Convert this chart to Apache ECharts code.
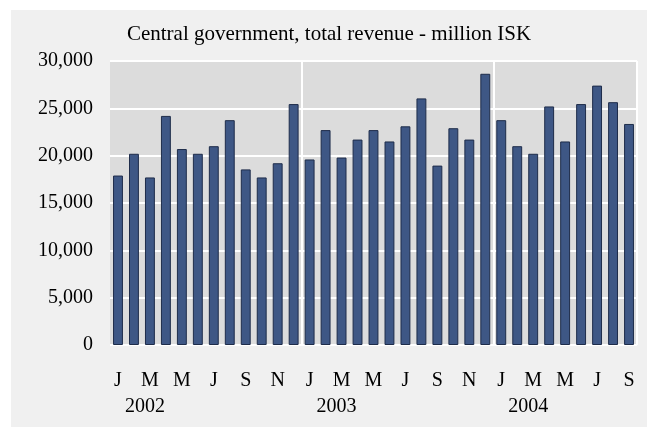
<!DOCTYPE html>
<html><head><meta charset="utf-8">
<script src="https://cdn.jsdelivr.net/npm/echarts@6/dist/echarts.min.js"></script>
<style>html,body{margin:0;padding:0;background:#fff}#c{position:absolute;left:11px;top:10px;width:636px;height:417px}</style>
</head><body><div id="c"></div>
<script>
const months = ['J','F','M','A','M','J','J','A','S','O','N','D'];
const years = ['2002','2003','2004'];
const categories = [];
for (let y = 0; y < 3; y++) for (let m = 0; m < 12; m++) if (y < 2 || m < 9) categories.push(years[y] + '-' + (m + 1));
const revenue = [17900,20200,17700,24200,20700,20200,21000,23750,18550,17700,19200,25450,
  19600,22700,19800,21700,22700,21500,23100,26050,18950,22900,21700,28650,
  23750,21000,20200,25200,21500,25450,27400,25650,23350];
const yTicks = [0,5000,10000,15000,20000,25000,30000];
const font = 'Liberation Serif';
const chart = echarts.init(document.getElementById('c'));
chart.setOption({
  backgroundColor: '#f0f0f0',
  animation: false,
  title: { text: 'Central government, total revenue - million ISK', left: 'center', top: 9,
    textStyle: { fontFamily: font, fontSize: 21, fontWeight: 'normal', color: '#000' } },
  grid: { left: 99, right: 10, top: 51, bottom: 82, show: true, backgroundColor: '#dcdcdc', borderWidth: 0 },
  xAxis: [{
    type: 'category', data: categories,
    axisLine: { show: false }, axisTick: { show: false },
    splitLine: { show: true, interval: (i) => i % 12 === 0 && i > 0, lineStyle: { color: '#fff', width: 2 } },
    axisLabel: { interval: 0, margin: 26, fontFamily: font, fontSize: 20, color: '#000',
      formatter: (v, i) => (i % 2 === 0 ? months[i % 12] : '') }
  }, {
    type: 'category', data: categories, position: 'bottom', offset: 0,
    axisLine: { show: false }, axisTick: { show: false }, splitLine: { show: false },
    axisLabel: { interval: 0, margin: 52, fontFamily: font, fontSize: 20, color: '#000',
      padding: [0, 0, 0, 22],
      formatter: (v, i) => (i % 12 === 1 ? years[Math.floor(i / 12)] : '') }
  }],
  yAxis: {
    type: 'value', min: 0, max: 30000, interval: 5000,
    axisLine: { show: false }, axisTick: { show: false },
    splitLine: { lineStyle: { color: '#fff', width: 2 } },
    axisLabel: { margin: 17, fontFamily: font, fontSize: 20, color: '#000',
      formatter: (v) => yTicks.includes(v) ? v.toLocaleString('en-US') : '' }
  },
  series: [{
    type: 'bar', data: revenue, barWidth: '62%',
    itemStyle: { color: '#3e5785', borderColor: '#1e2c4a', borderWidth: 1 }
  }]
});
</script></body></html>
